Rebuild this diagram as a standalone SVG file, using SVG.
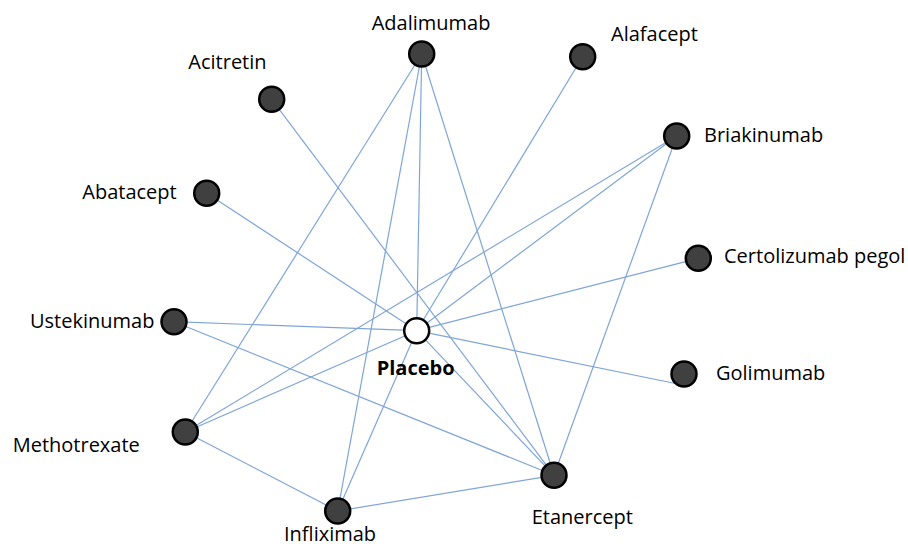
<svg xmlns="http://www.w3.org/2000/svg" width="908" height="548" viewBox="0 0 908 548">
<style>
.e{stroke:#7fa5d8;stroke-width:1.2;fill:none}
.n{fill:#404040;stroke:#000;stroke-width:2.5}
.p{fill:#fff;stroke:#000;stroke-width:2.5}
.t{font-family:"Open Sans","Liberation Sans",sans-serif;font-size:20px;fill:#000}
.b{font-weight:bold}
</style>
<rect width="908" height="548" fill="#fff"/>
<g id="connectors">
<line class="e" x1="421.7" y1="54" x2="416.7" y2="330.7"/>
<line class="e" x1="421.7" y1="54" x2="185.3" y2="432"/>
<line class="e" x1="421.7" y1="54" x2="337.7" y2="511"/>
<line class="e" x1="421.7" y1="54" x2="554" y2="475.3"/>
<line class="e" x1="582.7" y1="56.7" x2="416.7" y2="330.7"/>
<line class="e" x1="271.7" y1="99.3" x2="554" y2="475.3"/>
<line class="e" x1="206.7" y1="193.3" x2="416.7" y2="330.7"/>
<line class="e" x1="676.7" y1="136" x2="185.3" y2="432"/>
<line class="e" x1="676.7" y1="136" x2="416.7" y2="330.7"/>
<line class="e" x1="676.7" y1="136" x2="554" y2="475.3"/>
<line class="e" x1="698.3" y1="258.3" x2="416.7" y2="330.7"/>
<line class="e" x1="174" y1="321.7" x2="416.7" y2="330.7"/>
<line class="e" x1="174" y1="321.7" x2="554" y2="475.3"/>
<line class="e" x1="678" y1="384" x2="416.7" y2="330.7"/>
<line class="e" x1="185.3" y1="432" x2="416.7" y2="330.7"/>
<line class="e" x1="185.3" y1="432" x2="337.7" y2="511"/>
<line class="e" x1="337.7" y1="511" x2="416.7" y2="330.7"/>
<line class="e" x1="337.7" y1="511" x2="554" y2="475.3"/>
<line class="e" x1="416.7" y1="330.7" x2="554" y2="475.3"/>
</g>
<g id="adalimumab"><circle class="n" cx="421.7" cy="54" r="12.5"/><text class="t" x="371.7" y="30">Adalimumab</text></g>
<g id="alafacept"><circle class="n" cx="582.7" cy="56.7" r="12.5"/><text class="t" x="611" y="40.7">Alafacept</text></g>
<g id="acitretin"><circle class="n" cx="271.7" cy="99.3" r="12.5"/><text class="t" x="188.3" y="69.3">Acitretin</text></g>
<g id="briakinumab"><circle class="n" cx="676.7" cy="136" r="12.5"/><text class="t" x="704" y="142.3">Briakinumab</text></g>
<g id="abatacept"><circle class="n" cx="206.7" cy="193.3" r="12.5"/><text class="t" x="176.7" y="199" text-anchor="end">Abatacept</text></g>
<g id="certolizumab"><circle class="n" cx="698.3" cy="258.3" r="12.5"/><text class="t" x="724" y="263.3">Certolizumab pegol</text></g>
<g id="ustekinumab"><circle class="n" cx="174" cy="321.7" r="12.5"/><text class="t" x="30" y="328.3">Ustekinumab</text></g>
<g id="placebo"><circle class="p" cx="416.7" cy="330.7" r="12.5"/><text class="t b" x="376.7" y="375">Placebo</text></g>
<g id="golimumab"><circle class="n" cx="684" cy="374" r="12.5"/><text class="t" x="716" y="380">Golimumab</text></g>
<g id="methotrexate"><circle class="n" cx="185.3" cy="432" r="12.5"/><text class="t" x="12.7" y="451.7">Methotrexate</text></g>
<g id="etanercept"><circle class="n" cx="554" cy="475.3" r="12.5"/><text class="t" x="531.7" y="524">Etanercept</text></g>
<g id="infliximab"><circle class="n" cx="337.7" cy="511" r="12.5"/><text class="t" x="284" y="541">Infliximab</text></g>
</svg>
